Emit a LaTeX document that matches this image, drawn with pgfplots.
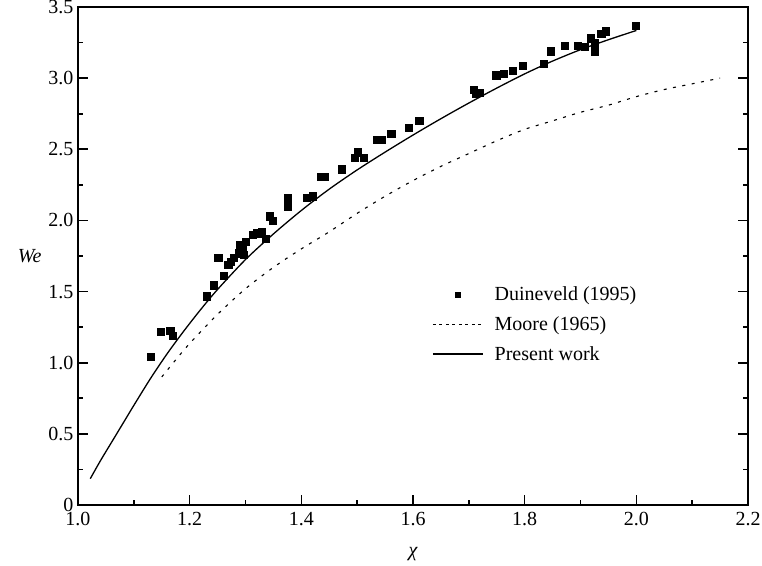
\documentclass[border=0pt]{standalone}
\usepackage{fontspec}
\setmainfont{Liberation Serif}
\usepackage{pgfplots}
\pgfplotsset{compat=1.18}
\begin{document}
\begin{tikzpicture}
\begin{axis}[
  scale only axis, width=670bp, height=498bp,
  xmin=1.0, xmax=2.2, ymin=0, ymax=3.5,
  xtick={1.0,1.2,1.4,1.6,1.8,2.0,2.2},
  xticklabels={1.0,1.2,1.4,1.6,1.8,2.0,2.2},
  minor xtick={1.1,1.3,1.5,1.7,1.9,2.1},
  ytick={0,0.5,1.0,1.5,2.0,2.5,3.0,3.5},
  yticklabels={0,0.5,1.0,1.5,2.0,2.5,3.0,3.5},
  minor ytick={0.25,0.75,1.25,1.75,2.25,2.75,3.25},
  tick align=inside, xtick pos=bottom, ytick pos=both, yticklabel pos=left,
  major tick length=10bp, minor tick length=5.5bp,
  every tick/.style={black, line width=1.6bp},
  axis line style={line width=2bp},
  font=\fontsize{20bp}{24bp}\selectfont,
  xticklabel style={yshift=-4bp},
  yticklabel style={xshift=-1bp},
  xlabel={\itshape χ},
  ylabel={\itshape We},
  ylabel style={rotate=-90, at={(axis description cs:-0.072,0.5)}, anchor=center},
  xlabel style={at={(axis description cs:0.5,-0.078)}, anchor=north},
  legend style={at={(axis cs:1.634,1.585)}, anchor=north west, draw=none, fill=none,
    inner sep=0pt, column sep=4bp, nodes={inner sep=7.2bp}, font=\fontsize{20bp}{24bp}\selectfont},
  legend cell align=left,
]
\addplot[only marks, mark=square*, mark size=3.6bp, black,
  legend image code/.code={\draw[black, mark=square*, mark size=2.8bp, only marks] plot coordinates {(25bp,0bp)};}]
table {
1.130 1.044
1.148 1.218
1.165 1.223
1.170 1.19
1.230 1.467
1.243 1.545
1.251 1.74
1.261 1.61
1.269 1.69
1.273 1.71
1.279 1.74
1.288 1.77
1.290 1.83
1.295 1.80
1.297 1.76
1.301 1.85
1.313 1.90
1.321 1.91
1.329 1.92
1.336 1.87
1.343 2.03
1.348 2.00
1.376 2.16
1.376 2.10
1.410 2.16
1.421 2.17
1.434 2.31
1.441 2.31
1.472 2.36
1.496 2.44
1.501 2.48
1.511 2.44
1.535 2.57
1.544 2.57
1.561 2.61
1.592 2.65
1.611 2.70
1.709 2.92
1.712 2.89
1.719 2.90
1.749 3.02
1.762 3.03
1.778 3.05
1.796 3.09
1.834 3.10
1.846 3.19
1.871 3.23
1.895 3.23
1.907 3.22
1.918 3.28
1.925 3.25
1.925 3.19
1.937 3.31
1.945 3.33
1.999 3.37
};
\addlegendentry{Duineveld (1995)}
\addplot[black, line width=1.1bp, dash pattern=on 3bp off 6.5bp, smooth,
  legend image code/.code={\draw[black, line width=1.1bp, dash pattern=on 3bp off 3.5bp] (0bp,0bp) -- (50bp,0bp);}]
table {
1.15 0.90
1.175 1.02
1.20 1.135
1.25 1.34
1.30 1.52
1.35 1.67
1.40 1.80
1.45 1.92
1.50 2.05
1.55 2.17
1.60 2.28
1.65 2.38
1.70 2.47
1.75 2.56
1.80 2.64
1.85 2.70
1.90 2.76
1.95 2.81
2.00 2.87
2.05 2.92
2.10 2.96
2.15 3.00
};
\addlegendentry{Moore (1965)}
\addplot[black, line width=1.3bp, smooth,
  legend image code/.code={\draw[black, line width=1.3bp] (0bp,0bp) -- (50bp,0bp);}]
table {
1.022 0.185
1.04 0.31
1.06 0.44
1.08 0.57
1.10 0.70
1.13 0.89
1.16 1.065
1.19 1.225
1.22 1.375
1.25 1.515
1.30 1.725
1.35 1.905
1.40 2.07
1.45 2.22
1.50 2.355
1.55 2.48
1.60 2.60
1.65 2.715
1.70 2.825
1.75 2.93
1.80 3.03
1.85 3.12
1.90 3.20
1.95 3.27
2.00 3.335
};
\addlegendentry{Present work}
\end{axis}
\pgfresetboundingbox
\path[use as bounding box] ([shift={(-78bp,-61bp)}]current axis.south west) rectangle ([shift={(14bp,7bp)}]current axis.north east);
\end{tikzpicture}
\end{document}
